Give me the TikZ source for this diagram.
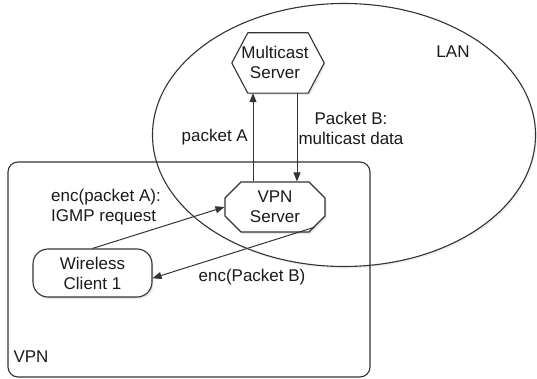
\documentclass[tikz,border=0pt]{standalone}
\usepackage{fontspec}
\setmainfont{Liberation Sans}
\usetikzlibrary{arrows.meta,shapes.geometric,shapes.misc,shadows}
\definecolor{ln}{HTML}{333333}
\definecolor{tx}{HTML}{1A1A1A}
\tikzset{
  lbl/.style={text=tx,font=\fontsize{17}{20}\selectfont,inner sep=0pt},
  shp/.style={draw=ln,line width=1.1pt,fill=white,
    drop shadow={opacity=0.18,shadow xshift=1.5pt,shadow yshift=-2pt}},
  region/.style={draw=ln,line width=1.1pt},
  arr/.style={draw=ln,line width=1pt,-{Triangle[length=9pt,width=7pt]}},
  hexbox/.style={draw=none,minimum width=92pt,minimum height=60pt,inner sep=0pt,align=center,lbl},
  srvbox/.style={shp,chamfered rectangle,chamfered rectangle xsep=8pt,chamfered rectangle ysep=8pt,
    minimum width=100pt,minimum height=50pt,inner sep=0pt,align=center,lbl},
  clibox/.style={shp,rounded corners=15pt,minimum width=119pt,minimum height=48pt,inner sep=0pt,align=center,lbl}
}
\begin{document}
\begin{tikzpicture}[x=1pt,y=-1pt]
\useasboundingbox (0,0) rectangle (537,379);
% regions
\node[region,fill=white,ellipse,minimum width=383pt,minimum height=263pt,inner sep=0pt,
  drop shadow={opacity=0.12,shadow xshift=1.5pt,shadow yshift=-2pt}] (lan) at (344,135) {};
\node[region,rounded corners=10pt,minimum width=362pt,minimum height=215pt,inner sep=0pt] (vpn) at (189,269.5) {};
\node[lbl] (lanlbl) at (453,52) {LAN};
\node[lbl] (vpnlbl) at (31,357) {VPN};
% multicast server (hexagon)
\node[hexbox] (ms) at (278,63) {};
\draw[shp,line join=round] (ms.west) -- ([xshift=16pt]ms.north west) -- ([xshift=-16pt]ms.north east)
  -- (ms.east) -- ([xshift=-16pt]ms.south east) -- ([xshift=16pt]ms.south west) -- cycle;
\node[hexbox] (mstext) at (275,62) {Multicast\\Server};
% VPN server
\node[srvbox] (vs) at (275,207) {VPN\\Server};
% wireless client
\node[clibox] (wc) at (92.5,273) {Wireless\\Client 1};
% connectors
\coordinate (xa) at (253,0);
\coordinate (xb) at (297,0);
\draw[arr] (vs.north -| xa) -- (ms.south -| xa);
\draw[arr] (ms.south -| xb) -- (vs.north -| xb);
\draw[arr] (wc.north) -- (vs.west);
\draw[arr] (vs.-27) -- (wc.-5);
% labels
\node[lbl,anchor=east] (la) at (248,137) {packet A};
\node[lbl,align=center] (lb) at (351,128) {Packet B:\\multicast data};
\node[lbl,align=left] (lc) at (106,207.5) {enc(packet A):\\IGMP request};
\node[lbl] (ld) at (252,277) {enc(Packet B)};
\end{tikzpicture}
\end{document}
